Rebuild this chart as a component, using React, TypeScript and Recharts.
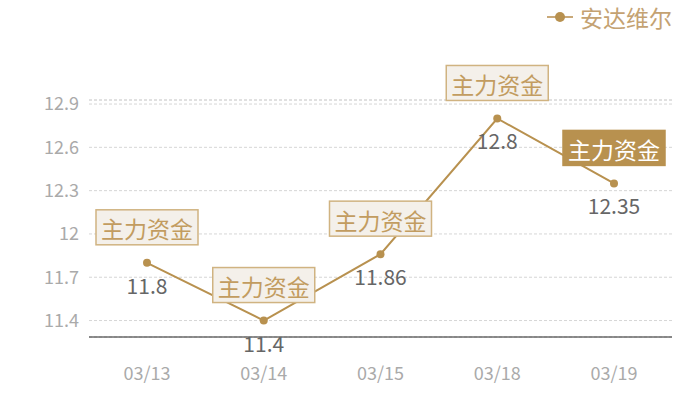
import { LineChart, Line, XAxis, YAxis, CartesianGrid, ReferenceLine, LabelList } from "recharts"

const dates = ["03/13", "03/14", "03/15", "03/18", "03/19"]
const prices = [11.8, 11.4, 11.86, 12.8, 12.35]
const tags = ["主力资金", "主力资金", "主力资金", "主力资金", "主力资金"]
const yTicks = [11.4, 11.7, 12, 12.3, 12.6, 12.9]
const seriesName = "安达维尔"
const activeIndex = 4

const data = dates.map((date, i) => ({ date, price: prices[i], tag: tags[i] }))

const yMin = Math.min(...prices) * 0.99
const yMax = Math.max(...prices) * 1.01

const GOLD = "#b8914f"
const FONT = "'Noto Sans CJK SC', 'Noto Sans', sans-serif"

const PointLabel = (props: any) => {
  const { x, y, value, index } = props
  const active = index === activeIndex
  const w = 102
  const h = 35
  const bottom = y - 18
  return (
    <g>
      <rect
        x={x - w / 2}
        y={bottom - h}
        width={w}
        height={h}
        fill={active ? GOLD : "#f4f0ea"}
        stroke={active ? GOLD : "#d0b381"}
        strokeWidth={1.5}
      />
      <text
        x={x}
        y={bottom - h / 2 + 1}
        textAnchor="middle"
        dominantBaseline="central"
        fontSize={23}
        fontFamily={FONT}
        fill={active ? "#fff" : "#c29c60"}
      >
        {tags[index]}
      </text>
      <text
        x={x}
        y={y + 22}
        textAnchor="middle"
        dominantBaseline="central"
        fontSize={21}
        fontFamily={FONT}
        fill="#666"
      >
        {value}
      </text>
    </g>
  )
}

export default function App() {
  return (
    <div style={{ position: "absolute", left: 0, top: 0, width: 700, height: 400, background: "#fff" }}>
      <div
        style={{
          position: "absolute",
          top: 0,
          right: 28,
          display: "flex",
          alignItems: "center",
          fontFamily: FONT,
          zIndex: 2,
        }}
      >
        <svg width={28} height={14}>
          <line x1={0} y1={7} x2={26} y2={7} stroke="#c9a979" strokeWidth={2} />
          <circle cx={13} cy={7} r={5} fill={GOLD} />
        </svg>
        <span style={{ marginLeft: 5, fontSize: 23, color: "#c4a272" }}>{seriesName}</span>
      </div>
      <LineChart width={700} height={400} data={data} margin={{ top: 100, right: 28, bottom: 0, left: 0 }}>
        <CartesianGrid vertical={false} stroke="#d6d6d6" strokeDasharray="3 2" />
        <ReferenceLine y={yMax} stroke="#d6d6d6" strokeDasharray="3 2" />
        <XAxis
          dataKey="date"
          height={63}
          padding={{ left: 58, right: 58 }}
          axisLine={{ stroke: "#222", strokeOpacity: 1 }}
          tickLine={false}
          tickMargin={24}
          tick={{ fill: "#aaa", fontSize: 18, fontFamily: FONT }}
        />
        <YAxis
          width={89}
          domain={[yMin, yMax]}
          ticks={yTicks}
          type="number"
          axisLine={false}
          tickLine={false}
          tickMargin={4}
          tick={{ fill: "#aaa", fontSize: 18, fontFamily: FONT }}
        />
        <Line
          dataKey="price"
          name={seriesName}
          stroke={GOLD}
          strokeWidth={2}
          dot={{ r: 4, fill: GOLD, stroke: GOLD, strokeWidth: 0 }}
          activeDot={false}
          isAnimationActive={false}
        >
          <LabelList dataKey="price" content={<PointLabel />} />
        </Line>
      </LineChart>
    </div>
  )
}
